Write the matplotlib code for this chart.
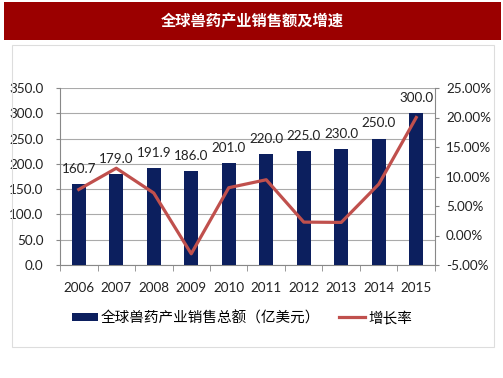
import numpy as np
import matplotlib
matplotlib.use("Agg")
import matplotlib.pyplot as plt
from matplotlib.patches import Rectangle

plt.rcParams['font.family'] = ['Lato', 'Noto Sans CJK SC', 'DejaVu Sans']

# 数据
years = ['2006', '2007', '2008', '2009', '2010', '2011', '2012', '2013', '2014', '2015']
sales = [160.7, 179.0, 191.9, 186.0, 201.0, 220.0, 225.0, 230.0, 250.0, 300.0]
growth = [7.8, 11.4, 7.2, -3.1, 8.1, 9.45, 2.27, 2.22, 8.7, 20.0]   # %
left_ticks = [0, 50, 100, 150, 200, 250, 300, 350]
right_ticks = [-5, 0, 5, 10, 15, 20, 25]

W, H = 503, 378
fig = plt.figure(figsize=(W / 100, H / 100), dpi=100)
fig.patch.set_facecolor('white')

# 标题栏
fig.patches.append(Rectangle((4 / W, 1 - 40 / H), 497 / W, 38 / H,
                             transform=fig.transFigure, facecolor='#9B0000',
                             edgecolor='none'))
fig.text(252 / W, 1 - 21 / H, '全球兽药产业销售额及增速', color='white',
         fontsize=11, fontweight='bold', ha='center', va='center',
         family=['Noto Sans CJK SC', 'DejaVu Sans'])
# 灰色边框
fig.patches.append(Rectangle((11.5 / W, 1 - 347 / H), 482 / W, 302 / H,
                             transform=fig.transFigure, facecolor='none',
                             edgecolor='#DDDDDD', linewidth=0.8))

fs = 9.7
ax = fig.add_axes([60 / W, 113 / H, 375 / W, 177 / H])
x = np.arange(len(years))
bars = ax.bar(x, sales, width=0.38, color='#0C1F5E', zorder=3,
              label='全球兽药产业销售总额（亿美元）')
ax.set_xlim(-0.5, len(years) - 0.5)
ax.set_ylim(0, 350)
ax.set_yticks(left_ticks)
ax.set_yticklabels([f'{v:.1f}' for v in left_ticks])
ax.set_xticks(x)
ax.set_xticklabels(years)
ax.set_xticks(np.arange(-0.5, len(years)), minor=True)
ax.tick_params(axis='x', which='major', length=0, pad=12)
ax.tick_params(axis='x', which='minor', length=4, color='#888888')
ax.tick_params(axis='y', length=3, color='#888888', pad=9)
ax.tick_params(labelsize=fs, labelcolor='#222222')
ax.grid(axis='y', color='#AAAAAA', linewidth=0.8, zorder=0)
for s in ['top', 'right']:
    ax.spines[s].set_visible(False)
for s in ['left', 'bottom']:
    ax.spines[s].set_color('#888888')

# 柱顶数值
for xi, v in zip(x, sales):
    ax.text(xi, v + 30, f'{v:.1f}', ha='center', va='center', fontsize=fs,
            color='#222222', zorder=5)

ax2 = ax.twinx()
line, = ax2.plot(x, growth, color='#C0504D', linewidth=2.3, zorder=4,
                 label='增长率')
ax2.set_ylim(-5, 25)
ax2.set_yticks(right_ticks)
ax2.set_yticklabels([f'{v:.2f}%' for v in right_ticks])
ax2.tick_params(axis='y', length=3, color='#888888', labelsize=fs,
                labelcolor='#222222', pad=5)
for s in ['top', 'left', 'bottom']:
    ax2.spines[s].set_visible(False)
ax2.spines['right'].set_color('#888888')

fig.legend([bars, line], ['全球兽药产业销售总额（亿美元）', '增长率'],
           loc='center', bbox_to_anchor=(242 / W, 1 - 318 / H), ncol=2,
           frameon=False, handlelength=1.8, handleheight=0.55,
           handletextpad=0.2, columnspacing=1.3,
           prop={'family': ['Noto Sans CJK SC'], 'size': 10.5})

fig.savefig('out.png', dpi=100)
